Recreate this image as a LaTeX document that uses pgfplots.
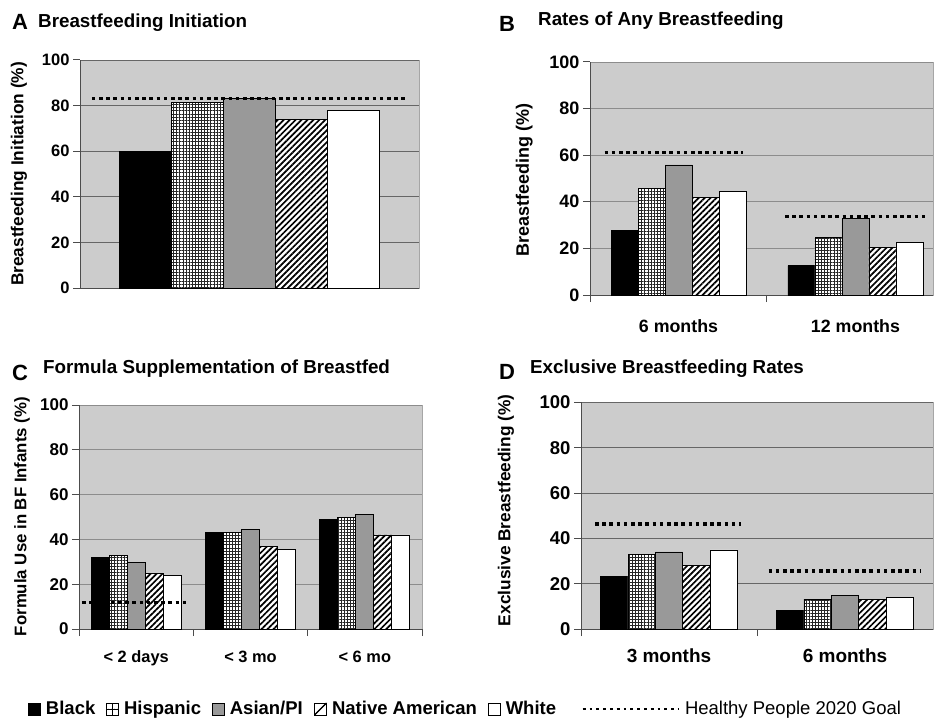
\documentclass[border=0pt]{standalone}
\usepackage{fontspec}
\setmainfont{Liberation Sans}
\usepackage{pgfplots}
\pgfplotsset{compat=1.18}
\usetikzlibrary{patterns.meta}

\definecolor{bg}{gray}{0.80}
\definecolor{asian}{gray}{0.60}

\pgfplotsset{
  panel/.style={
    scale only axis,
    axis lines*=left,
    axis line style={black!70, line width=1pt},
    axis background/.style={fill=bg, draw=black!35, line width=0.8pt},
    ymin=0, ymax=100, ytick={0,20,40,60,80,100},
    ymajorgrids, grid style={black!60, line width=0.9pt},
    tick align=outside, major tick length=7pt,
    tick style={black!70, line width=1pt},
    /pgf/number format/assume math mode=true,
    clip=false,
  },
  sBlack/.style={ybar, bar width=#1pt, bar shift=-2*#1pt, fill=black, draw=black, line width=0.8pt},
  sHisp/.style={ybar, bar width=#1pt, bar shift=-1*#1pt, draw=black, line width=0.8pt,
     preaction={fill=white}, pattern={Hatch[angle=0,distance=3.1pt,line width=0.8pt]}, pattern color=black!85},
  sAsian/.style={ybar, bar width=#1pt, bar shift=0pt, fill=asian, draw=black, line width=0.8pt},
  sNative/.style={ybar, bar width=#1pt, bar shift=#1pt, draw=black, line width=0.8pt,
     preaction={fill=white}, pattern={Lines[angle=45,distance=4.2pt,line width=1.7pt]}, pattern color=black},
  sWhite/.style={ybar, bar width=#1pt, bar shift=2*#1pt, fill=white, draw=black, line width=0.8pt},
  goal/.style={sharp plot, no marks, black, line width=3.2pt, dash pattern=on 3.6pt off 3.6pt},
}

\begin{document}
\begin{tikzpicture}
\path (0pt,0pt) rectangle (934pt,718pt);

% Titles
\node[anchor=base west, inner sep=0pt, font=\fontsize{22}{24}\selectfont\bfseries] at (12pt,688pt) {A};
\node[anchor=base west, inner sep=0pt, font=\fontsize{18.8}{22}\selectfont\bfseries] at (38pt,690pt) {Breastfeeding Initiation};
\node[anchor=base west, inner sep=0pt, font=\fontsize{22}{24}\selectfont\bfseries] at (499pt,686pt) {B};
\node[anchor=base west, inner sep=0pt, font=\fontsize{18.8}{22}\selectfont\bfseries] at (538pt,692pt) {Rates of Any Breastfeeding};
\node[anchor=base west, inner sep=0pt, font=\fontsize{22}{24}\selectfont\bfseries] at (12pt,338pt) {C};
\node[anchor=base west, inner sep=0pt, font=\fontsize{18.8}{22}\selectfont\bfseries] at (43pt,344.7pt) {Formula Supplementation of Breastfed};
\node[anchor=base west, inner sep=0pt, font=\fontsize{22}{24}\selectfont\bfseries] at (499pt,338.7pt) {D};
\node[anchor=base west, inner sep=0pt, font=\fontsize{18.8}{22}\selectfont\bfseries] at (530pt,344.7pt) {Exclusive Breastfeeding Rates};

% Panel A
\begin{axis}[panel, at={(80pt,430pt)}, anchor=south west, width=339pt, height=228pt,
  xmin=-0.5, xmax=0.5, xtick=\empty,
  yticklabel style={font=\fontsize{16.5}{18}\selectfont\bfseries},
  ylabel={Breastfeeding Initiation (\%)},
  ylabel style={at={(axis description cs:-0.18,0.5)}, anchor=center, font=\fontsize{17.3}{20}\selectfont\bfseries},
]
\addplot[sBlack=52] coordinates {(0,60)};
\addplot[sHisp=52] coordinates {(0,81.5)};
\addplot[sAsian=52] coordinates {(0,83.3)};
\addplot[sNative=52] coordinates {(0,74)};
\addplot[sWhite=52] coordinates {(0,77.8)};
\addplot[goal] coordinates {(-0.465,83.2) (0.468,83.2)};
\end{axis}

% Panel B
\begin{axis}[panel, at={(590pt,423pt)}, anchor=south west, width=343pt, height=233pt,
  xmin=-0.5, xmax=1.438, xtick={-0.5,0.5}, xticklabels={},
  extra x ticks={0,1}, extra x tick labels={6 months,12 months},
  extra x tick style={major tick length=0pt},
  xticklabel style={font=\fontsize{17.8}{20}\selectfont\bfseries, anchor=base, yshift=-37pt},
  yticklabel style={font=\fontsize{18}{20}\selectfont\bfseries},
  ylabel={Breastfeeding (\%)},
  ylabel style={at={(axis description cs:-0.192,0.494)}, anchor=center, font=\fontsize{18}{20}\selectfont\bfseries},
  grid style={black!45, line width=0.8pt},
]
\addplot[sBlack=27] coordinates {(0,27.6) (1,12.6)};
\addplot[sHisp=27] coordinates {(0,45.6) (1,24.8)};
\addplot[sAsian=27] coordinates {(0,55.8) (1,32.7)};
\addplot[sNative=27] coordinates {(0,41.9) (1,20.5)};
\addplot[sWhite=27] coordinates {(0,44.5) (1,22.6)};
\addplot[goal] coordinates {(-0.417,61.0) (0.364,61.0)};
\addplot[goal] coordinates {(0.602,33.6) (1.393,33.6)};
\end{axis}

% Panel C
\begin{axis}[panel, at={(79pt,89pt)}, anchor=south west, width=343pt, height=224pt,
  xmin=-0.5, xmax=2.5, xtick={-0.5,0.5,1.5,2.5}, xticklabels={},
  extra x ticks={0,1,2}, extra x tick labels={< 2 days,< 3 mo,< 6 mo},
  extra x tick style={major tick length=0pt},
  xticklabel style={font=\fontsize{16.4}{18}\selectfont\bfseries, anchor=base, yshift=-33pt},
  yticklabel style={font=\fontsize{17}{19}\selectfont\bfseries},
  ylabel={Formula Use in BF Infants (\%)},
  ylabel style={at={(axis description cs:-0.166,0.502)}, anchor=center, font=\fontsize{16.8}{19}\selectfont\bfseries},
  grid style={black!45, line width=0.8pt},
  legend style={draw=none, fill=none, at={(axis description cs:-0.1487,-0.357)}, anchor=west,
    inner sep=0pt, font=\fontsize{18.5}{20}\selectfont\bfseries,
    /tikz/every odd column/.append style={column sep=3pt},
    /tikz/every even column/.append style={column sep=9pt}},
  legend columns=-1,
]
\addplot[sBlack=18, legend image code/.code={\path[fill=black, draw=black] (0pt,-6pt) rectangle (12pt,6pt);}]
  coordinates {(0,32.1) (1,43.2) (2,49)};
\addlegendentry{Black}
\addplot[sHisp=18, legend image code/.code={\path[draw=black, fill=white, line width=0.7pt] (0pt,-6pt) rectangle (12pt,6pt); \path[draw=black, line width=0.7pt] (6pt,-6pt) -- (6pt,6pt) (0pt,0pt) -- (12pt,0pt);}]
  coordinates {(0,33) (1,43) (2,49.9)};
\addlegendentry{Hispanic}
\addplot[sAsian=18, legend image code/.code={\path[draw=black, fill=asian, line width=0.7pt] (0pt,-6pt) rectangle (12pt,6pt);}]
  coordinates {(0,29.9) (1,44.6) (2,51)};
\addlegendentry{Asian/PI}
\addplot[sNative=18, legend image code/.code={\path[draw=black, fill=white, line width=0.7pt] (0pt,-6pt) rectangle (12pt,6pt); \path[draw=black, line width=1.2pt] (0pt,-6pt) -- (12pt,6pt);}]
  coordinates {(0,24.7) (1,36.8) (2,42)};
\addlegendentry{Native American}
\addplot[sWhite=18, legend image code/.code={\path[draw=black, fill=white, line width=0.7pt] (0pt,-6pt) rectangle (12pt,6pt);}]
  coordinates {(0,24.1) (1,35.7) (2,42)};
\addlegendentry{White}
\addplot[goal, legend image code/.code={\path (0pt,0pt); \path[draw=black, line width=2.6pt, dash pattern=on 2.8pt off 4pt] (14pt,0pt) -- (110pt,0pt);}]
  coordinates {(-0.474,11.9) (0.454,11.9)};
\addlegendentry{\mdseries Healthy People 2020 Goal}
\end{axis}

% Panel D
\begin{axis}[panel, at={(581pt,89pt)}, anchor=south west, width=352pt, height=226.6pt,
  xmin=-0.5, xmax=1.5, xtick={-0.5,0.5}, xticklabels={},
  extra x ticks={0,1}, extra x tick labels={3 months,6 months},
  extra x tick style={major tick length=0pt},
  xticklabel style={font=\fontsize{19}{21}\selectfont\bfseries, anchor=base, yshift=-33pt},
  yticklabel style={font=\fontsize{18.5}{20}\selectfont\bfseries},
  ylabel={Exclusive Breastfeeding (\%)},
  ylabel style={at={(axis description cs:-0.213,0.524)}, anchor=center, font=\fontsize{17.3}{20}\selectfont\bfseries},
]
\addplot[sBlack=27.4] coordinates {(0,23.1) (1,8.1)};
\addplot[sHisp=27.4] coordinates {(0,33.1) (1,13.2)};
\addplot[sAsian=27.4] coordinates {(0,34) (1,14.8)};
\addplot[sNative=27.4] coordinates {(0,28.1) (1,13.2)};
\addplot[sWhite=27.4] coordinates {(0,34.9) (1,13.9)};
\addplot[goal] coordinates {(-0.42,46.3) (0.409,46.3)};
\addplot[goal] coordinates {(0.566,25.6) (1.43,25.6)};
\end{axis}
\end{tikzpicture}
\end{document}
